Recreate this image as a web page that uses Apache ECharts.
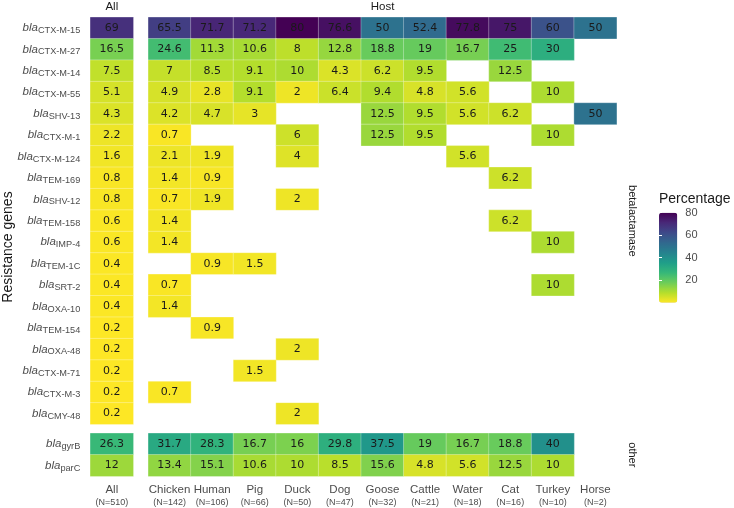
<!DOCTYPE html>
<html>
<head>
<meta charset="utf-8">
<script src="https://cdn.jsdelivr.net/npm/echarts@6/dist/echarts.min.js"></script>
<style>html,body{margin:0;padding:0;background:#fff;}#c{width:734px;height:508px;}</style>
</head>
<body>
<div id="c"></div>
<script>
// ---------- data ----------
const hosts = ['Chicken','Human','Pig','Duck','Dog','Goose','Cattle','Water','Cat','Turkey','Horse'];
const hostN = [142,106,66,50,47,32,21,18,16,10,2];
const allN = 510;
const betaGenes = ['CTX-M-15','CTX-M-27','CTX-M-14','CTX-M-55','SHV-13','CTX-M-1','CTX-M-124','TEM-169','SHV-12','TEM-158','IMP-4','TEM-1C','SRT-2','OXA-10','TEM-154','OXA-48','CTX-M-71','CTX-M-3','CMY-48'];
const otherGenes = ['gyrB','parC'];
const betaAll = [69,16.5,7.5,5.1,4.3,2.2,1.6,0.8,0.8,0.6,0.6,0.4,0.4,0.4,0.2,0.2,0.2,0.2,0.2];
// per gene: Chicken, Human, Pig, Duck, Dog, Goose, Cattle, Water, Cat, Turkey, Horse
const betaHost = [
  [65.5,71.7,71.2,80,76.6,50,52.4,77.8,75,60,50],
  [24.6,11.3,10.6,8,12.8,18.8,19,16.7,25,30,null],
  [7,8.5,9.1,10,4.3,6.2,9.5,null,12.5,null,null],
  [4.9,2.8,9.1,2,6.4,9.4,4.8,5.6,null,10,null],
  [4.2,4.7,3,null,null,12.5,9.5,5.6,6.2,null,50],
  [0.7,null,null,6,null,12.5,9.5,null,null,10,null],
  [2.1,1.9,null,4,null,null,null,5.6,null,null,null],
  [1.4,0.9,null,null,null,null,null,null,6.2,null,null],
  [0.7,1.9,null,2,null,null,null,null,null,null,null],
  [1.4,null,null,null,null,null,null,null,6.2,null,null],
  [1.4,null,null,null,null,null,null,null,null,10,null],
  [null,0.9,1.5,null,null,null,null,null,null,null,null],
  [0.7,null,null,null,null,null,null,null,null,10,null],
  [1.4,null,null,null,null,null,null,null,null,null,null],
  [null,0.9,null,null,null,null,null,null,null,null,null],
  [null,null,null,2,null,null,null,null,null,null,null],
  [null,null,1.5,null,null,null,null,null,null,null,null],
  [0.7,null,null,null,null,null,null,null,null,null,null],
  [null,null,null,2,null,null,null,null,null,null,null]
];
const otherAll = [26.3,12];
const otherHost = [
  [31.7,28.3,16.7,16,29.8,37.5,19,16.7,18.8,40,null],
  [13.4,15.1,10.6,10,8.5,15.6,4.8,5.6,12.5,10,null]
];
const legendTicks = [20,40,60,80];

// ---------- build ----------
function allCells(vals){ return vals.map((v,i)=>[0,i,v]); }
function hostCells(rows){
  const out=[];
  rows.forEach((r,i)=>r.forEach((v,j)=>{ if(v!==null) out.push([j,i,v]); }));
  return out;
}
const viridisRev = ['#FDE725','#B4DE2C','#6DCD59','#35B779','#1F9E89','#26828E','#31688E','#3E4A89','#482878','#440154'];
const txt = '#4d4d4d', dark = '#1a1a1a';
const AX = 'Liberation Sans';

const L0 = 90.3, W0 = 43, L1 = 148.3, W1 = 468.4;
const T0 = 17.3, H0 = 407, T1 = 433.3, H1 = 43;

const yRich = {
  i:{fontFamily:AX,fontStyle:'italic',fontSize:11.5,color:txt,lineHeight:12,verticalAlign:'top'},
  s:{fontFamily:AX,fontSize:9.2,color:txt,lineHeight:12,padding:[4,0,0,0],verticalAlign:'top'}
};
const xRich = {
  a:{fontFamily:AX,fontSize:11.5,color:txt,lineHeight:13},
  b:{fontFamily:AX,fontSize:9,color:txt,lineHeight:13}
};
const hidden = {axisLine:{show:false},axisTick:{show:false},axisLabel:{show:false},splitLine:{show:false}};

function catX(grid, data, opts){
  return Object.assign({type:'category',gridIndex:grid,data:data},hidden,opts||{});
}
function catY(grid, data, opts){
  return Object.assign({type:'category',gridIndex:grid,data:data,inverse:true},hidden,opts||{});
}
const yLab = {show:true,interval:0,margin:10,formatter:v=>'{i|bla}{s|'+v+'}',rich:yRich,align:'right'};
const xLab = (nArr)=>({show:true,margin:7,interval:0,formatter:(v,i)=>'{a|'+v+'}\n{b|(N='+nArr[i]+')}',rich:xRich});

const cellLabel = {show:true,fontFamily:'DejaVu Sans',fontSize:11,color:dark,formatter:p=>String(p.value[2])};
function hm(xi,yi,data){
  return {type:'heatmap',xAxisIndex:xi,yAxisIndex:yi,data:data,label:cellLabel,
    itemStyle:{borderColor:'rgba(255,255,255,0.6)',borderWidth:0.5},
    emphasis:{disabled:true}};
}
const gridBase = {outerBoundsMode:'none',containLabel:false};

const option = {
  animation:false,
  grid:[
    Object.assign({left:L0,top:T0,width:W0,height:H0},gridBase),
    Object.assign({left:L1,top:T0,width:W1,height:H0},gridBase),
    Object.assign({left:L0,top:T1,width:W0,height:H1},gridBase),
    Object.assign({left:L1,top:T1,width:W1,height:H1},gridBase),
    Object.assign({left:659,top:212.7,width:18.3,height:90},gridBase)
  ],
  xAxis:[
    catX(0,['All'],{position:'top',name:'All',nameLocation:'middle',nameGap:4.5,nameTextStyle:{fontFamily:AX,fontSize:11.5,color:dark}}),
    catX(1,hosts,{position:'top',name:'Host',nameLocation:'middle',nameGap:4.5,nameTextStyle:{fontFamily:AX,fontSize:11.5,color:dark}}),
    catX(2,['All'],{axisLabel:xLab([allN])}),
    catX(3,hosts,{axisLabel:xLab(hostN)}),
    {type:'value',gridIndex:4,show:false}
  ],
  yAxis:[
    catY(0,betaGenes,{axisLabel:yLab}),
    catY(1,betaGenes,{position:'right',name:'betalactamase',nameLocation:'middle',nameRotate:-90,nameGap:10,nameTextStyle:{fontFamily:AX,fontSize:11,color:dark}}),
    catY(2,otherGenes,{axisLabel:yLab}),
    catY(3,otherGenes,{position:'right',name:'other',nameLocation:'middle',nameRotate:-90,nameGap:10,nameTextStyle:{fontFamily:AX,fontSize:11,color:dark}}),
    {type:'value',gridIndex:4,min:0,max:80,interval:20,position:'right',z:10,
      axisLine:{show:false},splitLine:{show:false},
      axisTick:{show:true,inside:true,length:3,lineStyle:{color:'#fff',width:1},
        customValues:legendTicks},
      axisLabel:{show:true,margin:8,fontFamily:AX,fontSize:11,color:txt,
        customValues:legendTicks}},
    {type:'value',gridIndex:4,min:0,max:80,interval:20,position:'left',z:10,
      axisLine:{show:false},splitLine:{show:false},axisLabel:{show:false},
      axisTick:{show:true,inside:true,length:3,lineStyle:{color:'#fff',width:1},customValues:legendTicks}}
  ],
  visualMap:{
    type:'continuous',min:0.2,max:80,calculable:false,seriesIndex:[0,1,2,3],
    inRange:{color:viridisRev},left:659,top:212.7,itemWidth:18.3,itemHeight:90,padding:0,
    text:null,hoverLink:false,textStyle:{color:'transparent'}
  },
  graphic:[
    {type:'text',x:1,y:247,rotation:Math.PI/2,
      style:{text:'Resistance genes',fontFamily:AX,fontSize:14,fill:dark,align:'center',verticalAlign:'top'}},
    {type:'text',x:659,y:192,style:{text:'Percentage',fontFamily:AX,fontSize:14,fill:dark}}
  ],
  series:[
    hm(0,0,allCells(betaAll)),
    hm(1,1,hostCells(betaHost)),
    hm(2,2,allCells(otherAll)),
    hm(3,3,hostCells(otherHost))
  ]
};
const chart = echarts.init(document.getElementById('c'),null,{renderer:'canvas'});
chart.setOption(option);
</script>
</body>
</html>
